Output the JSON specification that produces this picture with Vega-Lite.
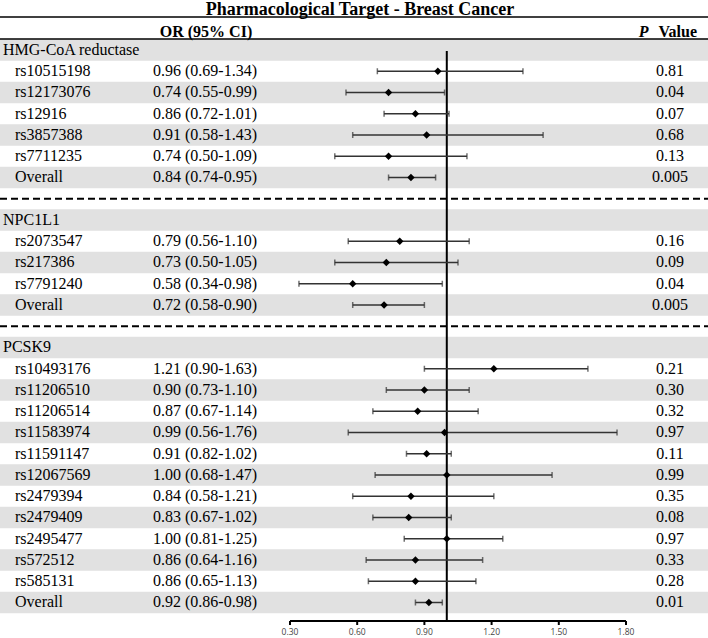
{
  "$schema": "https://vega.github.io/schema/vega-lite/v6.json",
  "width": 708,
  "height": 638,
  "padding": 0,
  "autosize": "none",
  "background": "white",
  "config": {"view": {"stroke": null}},
  "datasets": {
    "rows": [
      {"slot": 0, "label": "HMG-CoA reductase", "kind": "group"},
      {"slot": 1, "label": "rs10515198", "kind": "snp", "or": 0.96, "lo": 0.69, "hi": 1.34, "ci": "0.96 (0.69-1.34)", "p": "0.81"},
      {"slot": 2, "label": "rs12173076", "kind": "snp", "or": 0.74, "lo": 0.55, "hi": 0.99, "ci": "0.74 (0.55-0.99)", "p": "0.04"},
      {"slot": 3, "label": "rs12916", "kind": "snp", "or": 0.86, "lo": 0.72, "hi": 1.01, "ci": "0.86 (0.72-1.01)", "p": "0.07"},
      {"slot": 4, "label": "rs3857388", "kind": "snp", "or": 0.91, "lo": 0.58, "hi": 1.43, "ci": "0.91 (0.58-1.43)", "p": "0.68"},
      {"slot": 5, "label": "rs7711235", "kind": "snp", "or": 0.74, "lo": 0.50, "hi": 1.09, "ci": "0.74 (0.50-1.09)", "p": "0.13"},
      {"slot": 6, "label": "Overall", "kind": "overall", "or": 0.84, "lo": 0.74, "hi": 0.95, "ci": "0.84 (0.74-0.95)", "p": "0.005"},
      {"slot": 7, "kind": "sep"},
      {"slot": 8, "label": "NPC1L1", "kind": "group"},
      {"slot": 9, "label": "rs2073547", "kind": "snp", "or": 0.79, "lo": 0.56, "hi": 1.10, "ci": "0.79 (0.56-1.10)", "p": "0.16"},
      {"slot": 10, "label": "rs217386", "kind": "snp", "or": 0.73, "lo": 0.50, "hi": 1.05, "ci": "0.73 (0.50-1.05)", "p": "0.09"},
      {"slot": 11, "label": "rs7791240", "kind": "snp", "or": 0.58, "lo": 0.34, "hi": 0.98, "ci": "0.58 (0.34-0.98)", "p": "0.04"},
      {"slot": 12, "label": "Overall", "kind": "overall", "or": 0.72, "lo": 0.58, "hi": 0.90, "ci": "0.72 (0.58-0.90)", "p": "0.005"},
      {"slot": 13, "kind": "sep"},
      {"slot": 14, "label": "PCSK9", "kind": "group"},
      {"slot": 15, "label": "rs10493176", "kind": "snp", "or": 1.21, "lo": 0.90, "hi": 1.63, "ci": "1.21 (0.90-1.63)", "p": "0.21"},
      {"slot": 16, "label": "rs11206510", "kind": "snp", "or": 0.90, "lo": 0.73, "hi": 1.10, "ci": "0.90 (0.73-1.10)", "p": "0.30"},
      {"slot": 17, "label": "rs11206514", "kind": "snp", "or": 0.87, "lo": 0.67, "hi": 1.14, "ci": "0.87 (0.67-1.14)", "p": "0.32"},
      {"slot": 18, "label": "rs11583974", "kind": "snp", "or": 0.99, "lo": 0.56, "hi": 1.76, "ci": "0.99 (0.56-1.76)", "p": "0.97"},
      {"slot": 19, "label": "rs11591147", "kind": "snp", "or": 0.91, "lo": 0.82, "hi": 1.02, "ci": "0.91 (0.82-1.02)", "p": "0.11"},
      {"slot": 20, "label": "rs12067569", "kind": "snp", "or": 1.00, "lo": 0.68, "hi": 1.47, "ci": "1.00 (0.68-1.47)", "p": "0.99"},
      {"slot": 21, "label": "rs2479394", "kind": "snp", "or": 0.84, "lo": 0.58, "hi": 1.21, "ci": "0.84 (0.58-1.21)", "p": "0.35"},
      {"slot": 22, "label": "rs2479409", "kind": "snp", "or": 0.83, "lo": 0.67, "hi": 1.02, "ci": "0.83 (0.67-1.02)", "p": "0.08"},
      {"slot": 23, "label": "rs2495477", "kind": "snp", "or": 1.00, "lo": 0.81, "hi": 1.25, "ci": "1.00 (0.81-1.25)", "p": "0.97"},
      {"slot": 24, "label": "rs572512", "kind": "snp", "or": 0.86, "lo": 0.64, "hi": 1.16, "ci": "0.86 (0.64-1.16)", "p": "0.33"},
      {"slot": 25, "label": "rs585131", "kind": "snp", "or": 0.86, "lo": 0.65, "hi": 1.13, "ci": "0.86 (0.65-1.13)", "p": "0.28"},
      {"slot": 26, "label": "Overall", "kind": "overall", "or": 0.92, "lo": 0.86, "hi": 0.98, "ci": "0.92 (0.86-0.98)", "p": "0.01"}
    ],
    "ticks": [
      {"v": 0.3, "t": "0.30"},
      {"v": 0.6, "t": "0.60"},
      {"v": 0.9, "t": "0.90"},
      {"v": 1.2, "t": "1.20"},
      {"v": 1.5, "t": "1.50"},
      {"v": 1.8, "t": "1.80"}
    ]
  },
  "data": {"name": "rows"},
  "layer": [
    {
      "transform": [{"filter": "datum.slot % 2 == 0 && datum.kind != 'sep'"}],
      "mark": {"type": "rule", "strokeWidth": 21.4, "color": "#e1e1e1", "strokeCap": "butt"},
      "encoding": {
        "x": {"datum": -0.9946, "type": "quantitative", "axis": null,
              "scale": {"domain": [-0.9946, 2.1661], "nice": false, "zero": false}},
        "x2": {"datum": 2.1661},
        "y": {"field": "slot", "type": "quantitative", "axis": null,
              "scale": {"domain": [-2.3529, 27.6706], "reverse": true, "nice": false, "zero": false}}
      }
    },
    {
      "transform": [{"filter": "datum.kind == 'sep'"}],
      "mark": {"type": "rule", "strokeWidth": 2, "color": "black", "strokeDash": [7, 4], "strokeCap": "butt"},
      "encoding": {
        "x": {"datum": -0.9946, "type": "quantitative"},
        "x2": {"datum": 2.1661},
        "y": {"field": "slot", "type": "quantitative"}
      }
    },
    {
      "data": {"values": [{}]},
      "mark": {"type": "rule", "strokeWidth": 1.6, "color": "black"},
      "encoding": {
        "x": {"datum": -0.9946, "type": "quantitative"},
        "x2": {"datum": 2.1661},
        "y": {"datum": -1.553, "type": "quantitative"}
      }
    },
    {
      "data": {"values": [{}]},
      "mark": {"type": "rule", "strokeWidth": 1.6, "color": "black"},
      "encoding": {
        "x": {"datum": -0.9946, "type": "quantitative"},
        "x2": {"datum": 2.1661},
        "y": {"datum": -0.518, "type": "quantitative"}
      }
    },
    {
      "data": {"values": [{}]},
      "mark": {"type": "rule", "strokeWidth": 2, "color": "black"},
      "encoding": {
        "x": {"datum": 1, "type": "quantitative"},
        "y": {"datum": 0.05, "type": "quantitative"},
        "y2": {"datum": 26.87}
      }
    },
    {
      "transform": [{"filter": "isValid(datum.or)"}],
      "mark": {"type": "rule", "strokeWidth": 1.5, "color": "#333333"},
      "encoding": {
        "x": {"field": "lo", "type": "quantitative"},
        "x2": {"field": "hi"},
        "y": {"field": "slot", "type": "quantitative"}
      }
    },
    {
      "transform": [{"filter": "isValid(datum.or)"}],
      "mark": {"type": "tick", "orient": "vertical", "size": 6, "thickness": 1.5, "color": "#333333"},
      "encoding": {
        "x": {"field": "lo", "type": "quantitative"},
        "y": {"field": "slot", "type": "quantitative"}
      }
    },
    {
      "transform": [{"filter": "isValid(datum.or)"}],
      "mark": {"type": "tick", "orient": "vertical", "size": 6, "thickness": 1.5, "color": "#333333"},
      "encoding": {
        "x": {"field": "hi", "type": "quantitative"},
        "y": {"field": "slot", "type": "quantitative"}
      }
    },
    {
      "transform": [{"filter": "isValid(datum.or)"}],
      "mark": {"type": "point", "shape": "diamond", "filled": true, "color": "black", "size": 55, "opacity": 1},
      "encoding": {
        "x": {"field": "or", "type": "quantitative"},
        "y": {"field": "slot", "type": "quantitative"}
      }
    },
    {
      "transform": [{"filter": "datum.kind == 'group'"}],
      "mark": {"type": "text", "align": "left", "baseline": "middle", "font": "Liberation Serif", "fontSize": 16, "color": "black", "dx": 3},
      "encoding": {
        "x": {"datum": -0.9946, "type": "quantitative"},
        "y": {"field": "slot", "type": "quantitative"},
        "text": {"field": "label"}
      }
    },
    {
      "transform": [{"filter": "datum.kind == 'snp' || datum.kind == 'overall'"}],
      "mark": {"type": "text", "align": "left", "baseline": "middle", "font": "Liberation Serif", "fontSize": 16, "color": "black", "dx": 15},
      "encoding": {
        "x": {"datum": -0.9946, "type": "quantitative"},
        "y": {"field": "slot", "type": "quantitative"},
        "text": {"field": "label"}
      }
    },
    {
      "transform": [{"filter": "isValid(datum.or)"}],
      "mark": {"type": "text", "align": "left", "baseline": "middle", "font": "Liberation Serif", "fontSize": 16, "color": "black"},
      "encoding": {
        "x": {"datum": -0.3116, "type": "quantitative"},
        "y": {"field": "slot", "type": "quantitative"},
        "text": {"field": "ci"}
      }
    },
    {
      "transform": [{"filter": "isValid(datum.or)"}],
      "mark": {"type": "text", "align": "center", "baseline": "middle", "font": "Liberation Serif", "fontSize": 16, "color": "black"},
      "encoding": {
        "x": {"datum": 1.9965, "type": "quantitative"},
        "y": {"field": "slot", "type": "quantitative"},
        "text": {"field": "p"}
      }
    },
    {
      "data": {"values": [{"t": "Pharmacological Target - Breast Cancer"}]},
      "mark": {"type": "text", "align": "center", "baseline": "alphabetic", "font": "Liberation Serif", "fontSize": 18, "fontWeight": "bold", "color": "black"},
      "encoding": {
        "x": {"datum": 0.6125, "type": "quantitative"},
        "y": {"datum": -1.66, "type": "quantitative"},
        "text": {"field": "t"}
      }
    },
    {
      "data": {"values": [{"t": "OR (95% CI)"}]},
      "mark": {"type": "text", "align": "center", "baseline": "middle", "font": "Liberation Serif", "fontSize": 16, "fontWeight": "bold", "color": "black"},
      "encoding": {
        "x": {"datum": -0.075, "type": "quantitative"},
        "y": {"datum": -0.86, "type": "quantitative"},
        "text": {"field": "t"}
      }
    },
    {
      "data": {"values": [{"t": "Value"}]},
      "mark": {"type": "text", "align": "right", "baseline": "middle", "font": "Liberation Serif", "fontSize": 16, "fontWeight": "bold", "color": "black"},
      "encoding": {
        "x": {"datum": 2.117, "type": "quantitative"},
        "y": {"datum": -0.86, "type": "quantitative"},
        "text": {"field": "t"}
      }
    },
    {
      "data": {"values": [{"t": "P"}]},
      "mark": {"type": "text", "align": "right", "baseline": "middle", "font": "Liberation Serif", "fontSize": 16, "fontWeight": "bold", "fontStyle": "italic", "color": "black"},
      "encoding": {
        "x": {"datum": 1.9005, "type": "quantitative"},
        "y": {"datum": -0.86, "type": "quantitative"},
        "text": {"field": "t"}
      }
    },
    {
      "data": {"values": [{}]},
      "mark": {"type": "rule", "strokeWidth": 2, "color": "black"},
      "encoding": {
        "x": {"datum": 0.3, "type": "quantitative"},
        "x2": {"datum": 1.8},
        "y": {"datum": 26.87, "type": "quantitative"}
      }
    },
    {
      "data": {"name": "ticks"},
      "mark": {"type": "rule", "strokeWidth": 2, "color": "black"},
      "encoding": {
        "x": {"field": "v", "type": "quantitative"},
        "y": {"datum": 26.87, "type": "quantitative"},
        "y2": {"datum": 27.06}
      }
    },
    {
      "data": {"name": "ticks"},
      "mark": {"type": "text", "align": "center", "baseline": "middle", "font": "Open Sans", "fontSize": 8.5, "color": "#444444"},
      "encoding": {
        "x": {"field": "v", "type": "quantitative"},
        "y": {"datum": 27.41, "type": "quantitative"},
        "text": {"field": "t"}
      }
    }
  ]
}
